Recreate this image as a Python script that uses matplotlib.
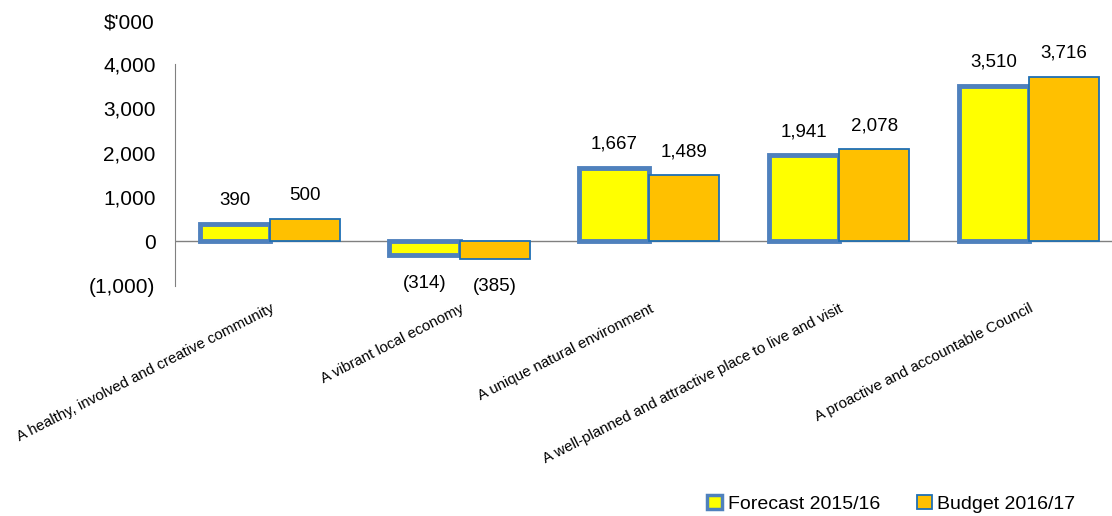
import numpy as np
import matplotlib.pyplot as plt
from matplotlib.patches import Patch
from matplotlib.ticker import FuncFormatter

plt.rcParams['font.family'] = ['Liberation Sans', 'DejaVu Sans']

# council outcome areas and the two series ($'000)
categories = ['A healthy, involved and creative community',
              'A vibrant local economy',
              'A unique natural environment',
              'A well-planned and attractive place to live and visit',
              'A proactive and accountable Council']
forecast = [390, -314, 1667, 1941, 3510]
budget = [500, -385, 1489, 2078, 3716]
series_names = ['Forecast 2015/16', 'Budget 2016/17']
y_ticks = [-1000, 0, 1000, 2000, 3000, 4000]

yellow = '#FFFF00'
orange = '#FFC000'
blue_thick = '#4F81BD'
blue_thin = '#1F6FB5'


def fmt(v, pos=None):
    if v < 0:
        return '({:,.0f})'.format(-v)
    return '{:,.0f}'.format(v)


fig = plt.figure(figsize=(11.12, 5.16), dpi=100)
ax = fig.add_axes([0.1574, 0.446, 0.853, 0.43])

x = np.arange(len(categories))
w = 0.37

b1 = ax.bar(x - w / 2, forecast, w, color=yellow, edgecolor=blue_thick, linewidth=3.5, zorder=3)
b2 = ax.bar(x + w / 2, budget, w, color=orange, edgecolor=blue_thin, linewidth=1.3, zorder=3)

# value labels above/below each bar
for bars, vals in ((b1, forecast), (b2, budget)):
    for rect, v in zip(bars, vals):
        cx = rect.get_x() + rect.get_width() / 2
        off = 17 if v >= 0 else -20
        ax.annotate(fmt(v), (cx, v), xytext=(0, off), textcoords='offset points',
                    ha='center', va='center', fontsize=13.5)

ax.axhline(0, color='#808080', linewidth=1, zorder=2)
ax.set_xlim(-0.5, len(categories) - 0.5)
ax.set_ylim(-1000, 4000)
ax.set_yticks(y_ticks)
ax.yaxis.set_major_formatter(FuncFormatter(fmt))
ax.tick_params(axis='y', length=0, pad=14, labelsize=15)
ax.tick_params(axis='x', length=0, pad=4)

ax.set_xticks(x)
ax.set_xticklabels(categories, rotation=27, ha='right', rotation_mode='anchor', fontsize=10.8)
for lbl in ax.get_xticklabels():
    lbl.set_y(-0.045)

for s in ('top', 'right', 'bottom'):
    ax.spines[s].set_visible(False)
ax.spines['left'].set_color('#808080')

fig.text(0.1394, 0.955, "$'000", ha='right', va='center', fontsize=15)

handles = [Patch(facecolor=yellow, edgecolor=blue_thick, linewidth=2.5),
           Patch(facecolor=orange, edgecolor=blue_thin, linewidth=1.3)]
fig.legend(handles, series_names, loc='lower right', bbox_to_anchor=(0.983, -0.028), ncol=2,
           frameon=False, fontsize=14, handlelength=0.75, handleheight=0.75,
           handletextpad=0.3, columnspacing=1.9)

fig.savefig('out.png', dpi=100)
